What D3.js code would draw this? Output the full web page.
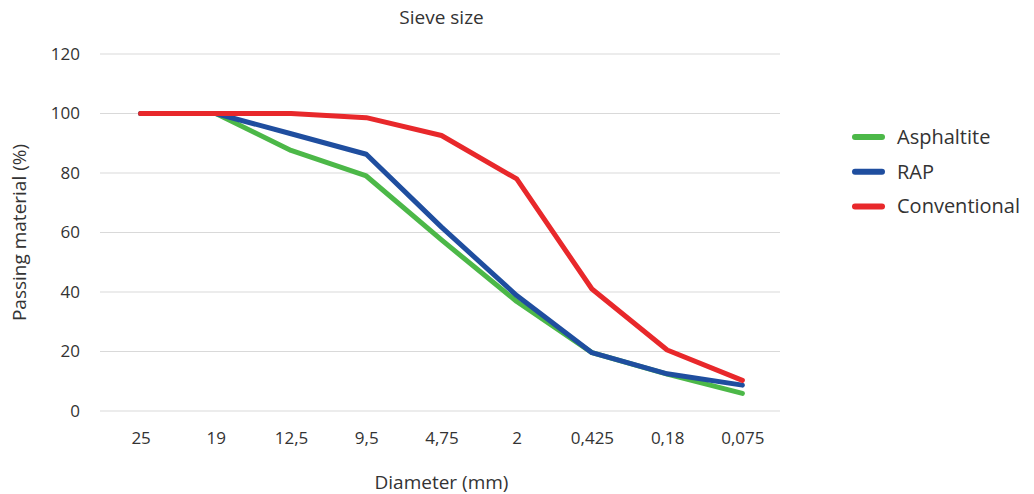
<!DOCTYPE html>
<meta charset="utf-8">
<head>
<style>
  body { margin: 0; background: #fff; }
  text { font-family: 'Open Sans', sans-serif; fill: #333; }
  .tick text { font-size: 17px; fill: #333; }
  .axis-title { font-size: 19px; text-anchor: middle; }
  .legend-label { font-size: 20px; }
</style>
</head>
<script src="https://d3js.org/d3.v7.min.js"></script>
<div id="chart"></div>
<script>
  // sieve sizes (mm) as shown on the x axis
  const sieves = ["25", "19", "12,5", "9,5", "4,75", "2", "0,425", "0,18", "0,075"];
  const asphaltite = [100, 100, 87.6, 79, 57.5, 36.8, 19.6, 12.4, 5.9];
  const rap = [100, 100, 93.2, 86.3, 61.8, 38.8, 19.6, 12.5, 8.7];
  const conventional = [100, 100, 100, 98.6, 92.6, 78, 41, 20.5, 10.3];
  const seriesNames = ["Asphaltite", "RAP", "Conventional"];
  const seriesColors = ["#4cb848", "#1f4e9f", "#e8282b"];
  const yTicks = [0, 20, 40, 60, 80, 100, 120];

  const series = [asphaltite, rap, conventional].map((vals, i) => ({
    name: seriesNames[i], color: seriesColors[i], values: vals
  }));

  const W = 1034, H = 494;
  const margin = { top: 54, right: 254, bottom: 83, left: 103 };
  const width = W - margin.left - margin.right,
        height = H - margin.top - margin.bottom;

  const svg = d3.select("#chart").append("svg")
    .attr("width", W).attr("height", H);
  const g = svg.append("g")
    .attr("transform", "translate(" + margin.left + "," + margin.top + ")");

  const x = d3.scalePoint().domain(sieves).range([0, width]).padding(0.5);
  const y = d3.scaleLinear().domain([0, 120]).range([height, 0]);

  // horizontal gridlines
  g.append("g")
    .selectAll("line")
    .data(yTicks)
    .join("line")
    .attr("x1", -3).attr("x2", width)
    .attr("y1", d => y(d)).attr("y2", d => y(d))
    .attr("stroke", "#d9d9d9").attr("stroke-width", 1);

  // y axis labels
  g.append("g")
    .call(d3.axisLeft(y).tickValues(yTicks).tickSize(0).tickPadding(23))
    .call(a => a.select(".domain").remove());

  // x axis labels
  g.append("g")
    .attr("transform", "translate(0," + height + ")")
    .call(d3.axisBottom(x).tickSize(0).tickPadding(21))
    .call(a => a.select(".domain").remove());

  const line = d3.line()
    .x((d, i) => x(sieves[i]))
    .y(d => y(d));

  g.append("g")
    .selectAll("path")
    .data(series)
    .join("path")
    .attr("d", d => line(d.values))
    .attr("fill", "none")
    .attr("stroke", d => d.color)
    .attr("stroke-width", 5)
    .attr("stroke-linejoin", "round")
    .attr("stroke-linecap", "round");

  // titles
  svg.append("text").attr("class", "axis-title")
    .attr("x", margin.left + width / 2).attr("y", 24)
    .text("Sieve size");
  svg.append("text").attr("class", "axis-title")
    .attr("x", margin.left + width / 2).attr("y", 489)
    .text("Diameter (mm)");
  svg.append("text").attr("class", "axis-title")
    .attr("transform", "translate(26," + (margin.top + y(60)) + ") rotate(-90)")
    .text("Passing material (%)");

  // legend
  const legend = svg.append("g")
    .attr("transform", "translate(855,137)")
    .selectAll("g")
    .data(series)
    .join("g")
    .attr("transform", (d, i) => "translate(0," + (i * 34.7) + ")");
  legend.append("line")
    .attr("x1", 0).attr("x2", 27)
    .attr("stroke", d => d.color)
    .attr("stroke-width", 6)
    .attr("stroke-linecap", "round");
  legend.append("text").attr("class", "legend-label")
    .attr("x", 42).attr("dy", "0.35em")
    .text(d => d.name);
</script>
